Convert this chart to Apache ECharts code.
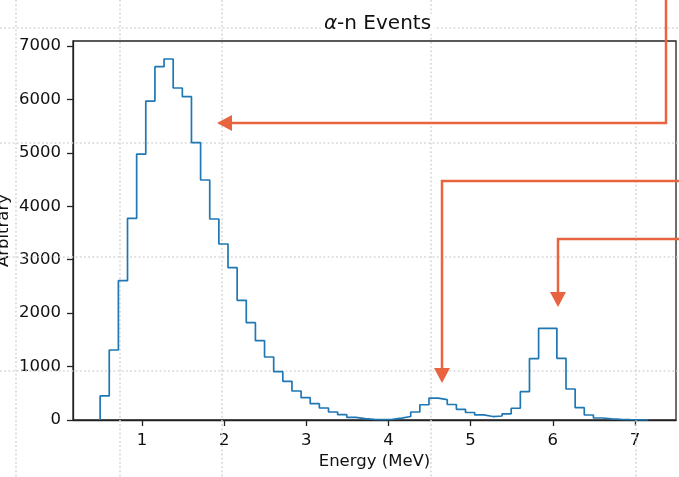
<!DOCTYPE html>
<html>
<head>
<meta charset="utf-8">
<script src="https://cdn.jsdelivr.net/npm/echarts@6/dist/echarts.min.js"></script>
<style>html,body{margin:0;padding:0;background:#fff}#c{width:679px;height:477px}</style>
</head>
<body>
<div id="c"></div>
<script>
// ---- data ----
const titleGreek = 'α';
const titleRest = '-n Events';
const xName = 'Energy (MeV)';
const yName = 'Arbitrary';
const energyStart = 0.49;     // first bin edge (MeV)
const binWidth = 0.1112;      // MeV
const counts = [
  450, 1310, 2607, 3775, 4978, 5970, 6613, 6757, 6214, 6051,
  5190, 4492, 3762, 3294, 2851, 2240, 1822, 1485, 1179, 905,
  723, 543, 418, 305, 225, 150, 100, 50, 25, 12,
  8, 12, 35, 65, 150, 285, 410, 380, 290, 200,
  140, 95, 65, 75, 115, 220, 530, 1150, 1716, 1716,
  1154, 580, 230, 94, 37, 20, 10, 6, 4, 2
];
const xTicks = [1, 2, 3, 4, 5, 6, 7];
const yTicks = [0, 1000, 2000, 3000, 4000, 5000, 6000, 7000];

// ---- annotation overlay (figure pixel space) ----
const figGridX = [16, 120, 222, 431, 636];
const figGridY = [28, 143, 257, 371];
const arrowPaths = [
  [[666, 0], [666, 123], [231, 123]],
  [[679, 181], [442, 181], [442, 369]],
  [[679, 239], [558, 239], [558, 293]]
];
const arrowHeads = [
  {pos: [224.5, 123], rot: 90},
  {pos: [442, 375.5], rot: 180},
  {pos: [558, 299.5], rot: 180}
];

// ---- build step histogram path ----
const edges = [];
for (let i = 0; i <= counts.length; i++) edges.push(energyStart + i * binWidth);
const histData = [[edges[0], 0]];
counts.forEach((c, i) => histData.push([edges[i], c]));
histData.push([edges[counts.length], counts[counts.length - 1]]);
histData.push([edges[counts.length], 0]);

const FONT = 'DejaVu Sans';
const arrowColor = '#e8633f';

const chart = echarts.init(document.getElementById('c'), null, {renderer: 'canvas'});
chart.setOption({
  animation: false,
  backgroundColor: '#fff',
  title: {
    text: '{g|' + titleGreek + '}{r|' + titleRest + '}', left: 374.5, textAlign: 'center', top: 14, padding: [0, 3],
    backgroundColor: '#fff',
    textStyle: {
      fontFamily: FONT, fontSize: 20, fontWeight: 'normal', color: '#111',
      rich: {
        g: {fontFamily: FONT, fontSize: 20, fontStyle: 'italic', color: '#111'},
        r: {fontFamily: FONT, fontSize: 20, color: '#111'}
      }
    }
  },
  grid: [
    {left: 73, top: 41, width: 603, height: 379, containLabel: false, outerBoundsMode: 'none',
     show: true, borderColor: '#222', borderWidth: 1.3, backgroundColor: 'transparent', z: 3},
    {left: 0, top: 0, width: 679, height: 477, containLabel: false, outerBoundsMode: 'none', show: false}
  ],
  xAxis: [
    {
      type: 'value', gridIndex: 0, min: 0.16, max: 7.5,
      name: xName, nameLocation: 'middle', nameGap: 33, nameMoveOverlap: false,
      nameTextStyle: {fontFamily: FONT, fontSize: 16.5, color: '#111'},
      axisLine: {show: true, lineStyle: {color: '#222', width: 1.3}},
      axisTick: {show: true, length: 6, inside: false, customValues: xTicks, lineStyle: {color: '#222', width: 1.3}},
      axisLabel: {customValues: xTicks, margin: 12, fontFamily: FONT, fontSize: 16.5, color: '#111',
                  formatter: v => String(v)},
      splitLine: {show: false}
    },
    {type: 'value', gridIndex: 1, min: 0, max: 679, show: false}
  ],
  yAxis: [
    {
      type: 'value', gridIndex: 0, min: 0, max: 7094,
      name: yName, nameLocation: 'middle', nameGap: 61, nameRotate: 90, nameMoveOverlap: false,
      nameTextStyle: {fontFamily: FONT, fontSize: 16.5, color: '#111'},
      axisLine: {show: true, lineStyle: {color: '#222', width: 1.3}},
      axisTick: {show: true, length: 6, inside: false, customValues: yTicks, lineStyle: {color: '#222', width: 1.3}},
      axisLabel: {customValues: yTicks, margin: 12, fontFamily: FONT, fontSize: 16.5, color: '#111',
                  formatter: v => String(v)},
      splitLine: {show: false}
    },
    {type: 'value', gridIndex: 1, min: 0, max: 477, inverse: true, show: false}
  ],
  series: [
    {
      type: 'line', xAxisIndex: 1, yAxisIndex: 1, data: [], silent: true, z: 1,
      markLine: {
        silent: true, symbol: ['none', 'none'], label: {show: false},
        lineStyle: {type: [1.8, 2.4], color: '#d6d6d6', width: 1.6},
        data: figGridX.map(v => ({xAxis: v})).concat(figGridY.map(v => ({yAxis: v})))
      }
    },
    {
      type: 'line', xAxisIndex: 0, yAxisIndex: 0, step: 'end', showSymbol: false, symbol: 'none',
      data: histData, lineStyle: {color: '#1f77b4', width: 1.7}, z: 5
    }
  ].concat(arrowPaths.map(p => ({
    type: 'line', xAxisIndex: 1, yAxisIndex: 1, data: p, symbol: 'none', showSymbol: false,
    lineStyle: {color: arrowColor, width: 2.5, cap: 'butt', join: 'miter'}, z: 10, silent: true
  }))).concat([{
    type: 'scatter', xAxisIndex: 1, yAxisIndex: 1, symbol: 'triangle', symbolSize: [16, 15], z: 11, silent: true,
    itemStyle: {color: arrowColor, opacity: 1},
    data: arrowHeads.map(h => ({value: h.pos, symbolRotate: h.rot}))
  }])
});
</script>
</body>
</html>
